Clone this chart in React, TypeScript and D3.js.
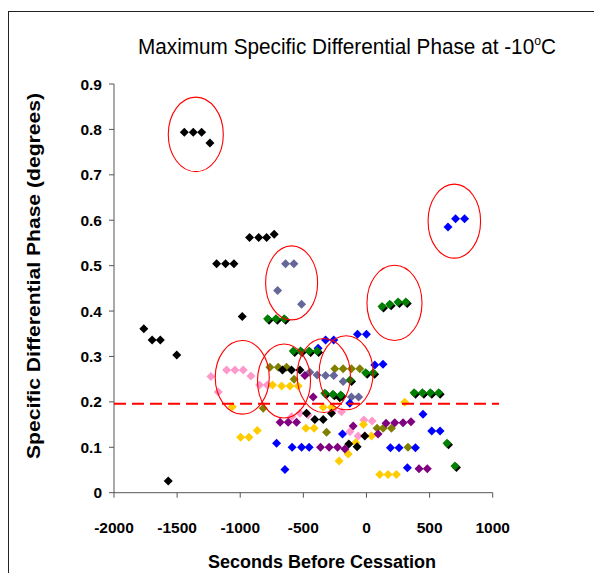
import React from "react";
import * as d3 from "d3";

// readings: [seconds before cessation, degrees]
const blackPts = [
  [-1443, 0.794], [-1372, 0.794], [-1306, 0.794], [-1240, 0.77],
  [-926, 0.562], [-854, 0.562], [-791, 0.562], [-731, 0.569],
  [-1187, 0.504], [-1116, 0.504], [-1050, 0.504], [-984, 0.388],
  [-1764, 0.361], [-1698, 0.336], [-1633, 0.336], [-1503, 0.303], [-1570, 0.026],
  [-665, 0.27], [-594, 0.27], [-527, 0.27],
  [-475, 0.175], [-409, 0.161], [-343, 0.161], [-277, 0.175], [-211, 0.209],
  [-140, 0.107], [-74, 0.101], [-13, 0.125],
];
const bluePts = [
  [646, 0.585], [706, 0.603], [777, 0.603],
  [-71, 0.349], [0, 0.349], [-324, 0.336], [-259, 0.336], [-383, 0.318],
  [66, 0.281], [131, 0.283], [-132, 0.197], [-190, 0.129],
  [-712, 0.109], [-646, 0.051], [-589, 0.1], [-514, 0.1], [-454, 0.1],
  [448, 0.173], [517, 0.136], [583, 0.136], [324, 0.055],
  [190, 0.099], [258, 0.099], [388, 0.099],
];
const greenPts = [
  [-783, 0.383], [-717, 0.383], [-652, 0.383],
  [123, 0.41], [184, 0.415], [250, 0.42], [311, 0.42],
  [377, 0.22], [443, 0.22], [506, 0.22], [572, 0.22], [638, 0.109], [701, 0.059],
  [-580, 0.312], [-522, 0.312], [-454, 0.312], [-391, 0.312],
  [-330, 0.219], [-266, 0.217], [-204, 0.215], [-6, 0.264], [53, 0.264], [-130, 0.248],
];
const slatePts = [
  [-641, 0.504], [-575, 0.504], [-704, 0.445], [-514, 0.415],
  [-449, 0.265], [-391, 0.259], [-324, 0.258], [-259, 0.258], [-185, 0.245],
  [-119, 0.211], [-62, 0.211],
];
const olivePts = [
  [-765, 0.276], [-699, 0.276], [-633, 0.276], [-573, 0.25], [-818, 0.186],
  [-251, 0.273], [-185, 0.273], [-119, 0.273], [-53, 0.273],
  [-316, 0.133], [84, 0.142], [132, 0.142], [198, 0.142], [329, 0.1],
];
const pinkPts = [
  [-1232, 0.256], [-1108, 0.27], [-1042, 0.27], [-976, 0.27], [-915, 0.257], [-1174, 0.222],
  [-847, 0.237], [-786, 0.237], [-593, 0.167], [-527, 0.175], [-462, 0.171],
  [-264, 0.182], [-198, 0.178], [-132, 0.134], [-66, 0.125], [-20, 0.16], [45, 0.158],
];
const yellowPts = [
  [-1063, 0.189], [-997, 0.122], [-931, 0.122], [-865, 0.137],
  [-744, 0.237], [-672, 0.235], [-606, 0.235], [-541, 0.235],
  [-343, 0.188], [-277, 0.188], [-480, 0.142], [-415, 0.142],
  [-85, 0.11], [-217, 0.07], [-145, 0.085], [-24, 0.15], [40, 0.125],
  [105, 0.04], [171, 0.04], [237, 0.04], [303, 0.199],
];
const purplePts = [
  [-684, 0.155], [-620, 0.155], [-554, 0.155], [-488, 0.258], [-422, 0.211],
  [-364, 0.1], [-296, 0.1], [-229, 0.1], [-171, 0.096], [-105, 0.147], [92, 0.129],
  [155, 0.153], [224, 0.154], [290, 0.154], [353, 0.156], [416, 0.053], [482, 0.053],
];

const series = [
  { name: "pink", color: "#FF99CC", pts: pinkPts },
  { name: "yellow", color: "#FFCC00", pts: yellowPts },
  { name: "olive", color: "#808000", pts: olivePts },
  { name: "slate", color: "#666699", pts: slatePts },
  { name: "black", color: "#000000", pts: blackPts },
  { name: "blue", color: "#0000FF", pts: bluePts },
  { name: "green", color: "#008000", pts: greenPts, shadow: true },
  { name: "purple", color: "#800080", pts: purplePts },
];

// hand drawn ellipses: centre and radii in data units
const rings = [
  [-1352, 0.789, 218, 0.082],
  [696, 0.598, 208, 0.0815],
  [-593, 0.462, 206, 0.0815],
  [222, 0.418, 218, 0.083],
  [-984, 0.254, 214, 0.081],
  [-653, 0.246, 210, 0.0815],
  [-338, 0.258, 211, 0.0815],
  [-161, 0.264, 214, 0.0815],
];
const threshold = 0.196;

const xTicks = [-2000, -1500, -1000, -500, 0, 500, 1000];
const yTicks = d3.range(0, 10).map((i) => i / 10);

const W = 594;
const H = 573;

const x = d3.scaleLinear().domain([-2000, 1000]).range([114, 492.7]);
const y = d3.scaleLinear().domain([0, 0.9]).range([492.7, 84]);

const diamond = (r: number) => `M0,${-r}L${r},0L0,${r}L${-r},0Z`;

export default function App() {
  const font = "'Liberation Sans', Arial, sans-serif";
  return (
    <svg width={W} height={H} style={{ position: "absolute", left: 0, top: 0, background: "#fff" }} fontFamily={font}>
      <rect x={8.5} y={11.5} width={620} height={620} fill="none" stroke="#222" strokeWidth={1} />

      <text x={347} y={54} fontSize={22} textAnchor="middle" textLength={418} lengthAdjust="spacingAndGlyphs">
        Maximum Specific Differential Phase at -10
        <tspan dy={-9} fontSize={13}>o</tspan>
        <tspan dy={9}>C</tspan>
      </text>

      {/* axes */}
      <line x1={114} x2={114} y1={y(0.9)} y2={y(0)} stroke="#555" />
      <line x1={114} x2={x(1000)} y1={y(0)} y2={y(0)} stroke="#555" />
      {yTicks.map((t) => (
        <g key={"y" + t}>
          <line x1={109} x2={114} y1={y(t)} y2={y(t)} stroke="#555" />
          <text x={102} y={y(t) + 5.5} fontSize={15.5} fontWeight="bold" textAnchor="end">
            {t === 0 ? "0" : String(t)}
          </text>
        </g>
      ))}
      {xTicks.map((t) => (
        <g key={"x" + t}>
          <line x1={x(t)} x2={x(t)} y1={y(0)} y2={y(0) + 5} stroke="#555" />
          <text x={x(t)} y={533} fontSize={15.5} fontWeight="bold" textAnchor="middle">
            {t}
          </text>
        </g>
      ))}

      <text x={322} y={568} fontSize={18} fontWeight="bold" textAnchor="middle">
        Seconds Before Cessation
      </text>
      <text
        transform={`translate(40,276) rotate(-90)`}
        fontSize={19}
        fontWeight="bold"
        textAnchor="middle"
        textLength={366}
        lengthAdjust="spacingAndGlyphs"
      >
        Specific Differential Phase (degrees)
      </text>

      {/* points */}
      {series.map((s) => (
        <g key={s.name}>
          {s.pts.map((p, i) => (
            <g key={i} transform={`translate(${x(p[0])},${y(p[1])})`}>
              {s.shadow && <path d={diamond(4.5)} transform="translate(1.5,1.5)" fill="#000" />}
              <path d={diamond(4.5)} fill={s.color} />
            </g>
          ))}
        </g>
      ))}

      <line
        x1={114}
        x2={499}
        y1={y(threshold)}
        y2={y(threshold)}
        stroke="#FF0000"
        strokeWidth={2}
        strokeDasharray="12,6"
      />

      {rings.map((r, i) => (
        <ellipse
          key={i}
          cx={x(r[0])}
          cy={y(r[1])}
          rx={x(r[0] + r[2]) - x(r[0])}
          ry={y(r[1] - r[3]) - y(r[1])}
          fill="none"
          stroke="#FF0000"
          strokeWidth={1.1}
        />
      ))}
    </svg>
  );
}
